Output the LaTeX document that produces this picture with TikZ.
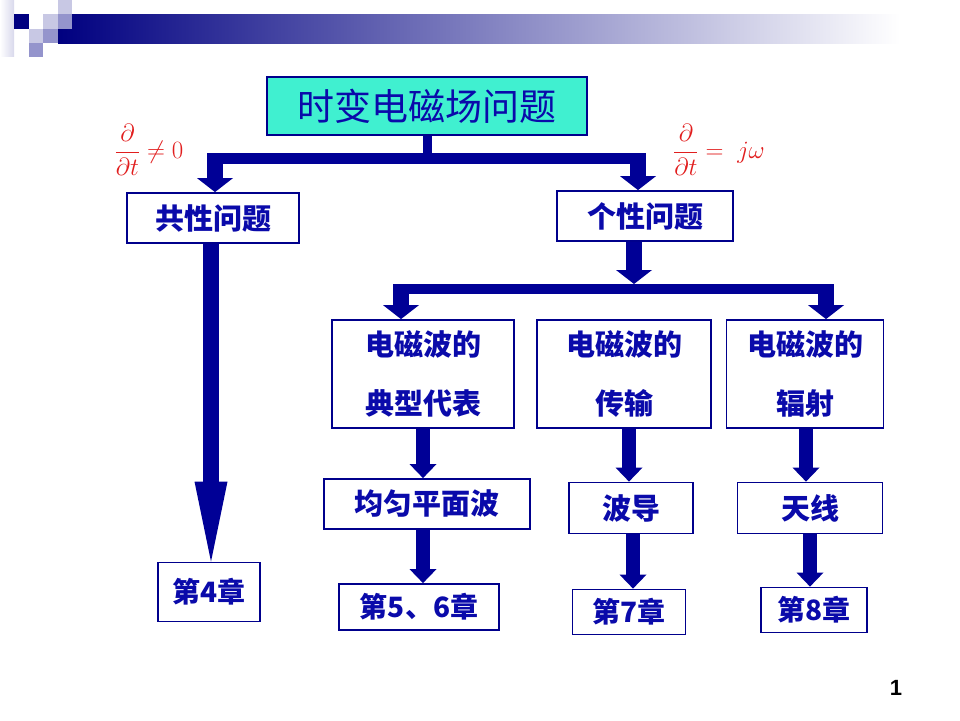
\documentclass[tikz,border=0pt]{standalone}
\usepackage{fontspec}
\newfontfamily\cjk{Noto Sans CJK SC}
\newfontfamily\numfont{Liberation Sans}
\usetikzlibrary{arrows.meta}
\definecolor{navy}{RGB}{0,0,128}
\definecolor{arrblue}{RGB}{0,0,150}
\definecolor{txtblue}{RGB}{10,10,170}
\definecolor{boxblue}{RGB}{0,0,140}
\definecolor{mint}{RGB}{64,240,208}
\definecolor{lav}{RGB}{200,200,228}
\definecolor{medlav}{RGB}{148,148,204}
\definecolor{eqred}{RGB}{225,30,30}
\tikzset{
  box/.style={draw=boxblue, line width=1.8pt, fill=white, inner sep=0pt,
    text=txtblue, align=center, font=\cjk\bfseries\fontsize{29}{59}\selectfont},
  titlebox/.style={draw=boxblue, line width=2pt, fill=mint, inner sep=0pt,
    minimum width=320pt, minimum height=58pt, text=txtblue,
    font=\cjk\fontsize{37}{40}\selectfont},
  bar/.style={draw=arrblue, line width=10pt},
  stem/.style={draw=arrblue, line width=9pt},
  bigdrop/.style={draw=arrblue, line width=16pt, -{Triangle[length=14pt,width=36pt,line width=0pt]}},
  drop/.style={draw=arrblue, line width=14pt, -{Triangle[length=14pt,width=27pt,line width=0pt]}},
  longdrop/.style={draw=arrblue, line width=16pt, -{Triangle[length=80pt,width=33pt,line width=0pt]}},
  eq/.style={text=eqred, font=\fontsize{24}{28}\selectfont},
}
\begin{document}
\begin{tikzpicture}[x=1pt,y=-1pt]
\useasboundingbox (0,0) rectangle (960,720);
% header decoration
\shade[left color=white, right color=lav!70] (0,0) rectangle (14,56);
\shade[left color=navy, right color=white] (58,14) rectangle (900,43);
\fill[lav] (58,0) rectangle (72,14);
\fill[navy] (14,14) rectangle (29,29);
\fill[lav] (43,14) rectangle (58,29);
\fill[medlav] (58,14) rectangle (72,29);
\fill[lav] (29,29) rectangle (43,43);
\fill[medlav] (43,29) rectangle (58,43);
\fill[medlav] (29,43) rectangle (43,57);

% nodes
\node[titlebox] (top) at (427,106) {时变电磁场问题};
\node[box, minimum width=172pt, minimum height=50pt] (gx) at (213,218) {共性问题};
\node[box, minimum width=176pt, minimum height=50pt] (gy) at (645,216) {个性问题};
\node[box, minimum width=182pt, minimum height=108pt] (e1) at (423,374) {电磁波的\\典型代表};
\node[box, minimum width=174pt, minimum height=108pt] (e2) at (624,374) {电磁波的\\传输};
\node[box, minimum width=157pt, minimum height=108pt] (e3) at (805,374) {电磁波的\\辐射};
\node[box, minimum width=206pt, minimum height=50pt] (f1) at (427,504) {均匀平面波};
\node[box, minimum width=124pt, minimum height=51pt] (f2) at (631,508) {波导};
\node[box, minimum width=145pt, minimum height=51pt] (f3) at (810,508) {天线};
\node[box, minimum width=160pt, minimum height=46pt, font=\cjk\bfseries\fontsize{28}{30}\selectfont] (c1) at (419,607) {第5、6章};
\node[box, minimum width=113pt, minimum height=45pt, font=\cjk\bfseries\fontsize{28}{30}\selectfont] (c2) at (629,612) {第7章};
\node[box, minimum width=106pt, minimum height=45pt, font=\cjk\bfseries\fontsize{28}{30}\selectfont] (c3) at (814,610) {第8章};
\node[box, minimum width=102pt, minimum height=59pt, font=\cjk\bfseries\fontsize{28}{30}\selectfont] (c0) at (209,592) {第4章};

\node[eq] (lblL) at (149,150) {$\displaystyle\frac{\partial}{\partial t}\neq 0$};
\node[eq] (lblR) at (719,150) {$\displaystyle\frac{\partial}{\partial t}=\;j\omega$};
\node[font=\numfont\bfseries\fontsize{22}{24}\selectfont] (pg) at (896,688) {1};

% connectors
\coordinate (s1) at (427,158);
\coordinate (b1l) at (207,158);
\coordinate (b1r) at (646,158);
\draw[stem] (top.south) -- (s1);
\draw[bar, line width=11pt] (b1l) -- (b1r);
\coordinate (d1) at (215,153);
\coordinate (d2) at (638,153);
\draw[bigdrop] (d1) -- (d1 |- gx.north);
\draw[bigdrop] (d2) -- (d2 |- gy.north);
\coordinate (g) at (634,0);
\coordinate (t2) at (634,284);
\draw[bigdrop] (g |- gy.south) -- (t2);
\coordinate (b2l) at (393,289);
\coordinate (b2r) at (834,289);
\draw[bar] (b2l) -- (b2r);
\coordinate (d3) at (401,284);
\coordinate (d4) at (826,284);
\draw[bigdrop] (d3) -- (d3 |- e1.north);
\draw[bigdrop] (d4) -- (d4 |- e3.north);
\coordinate (x1) at (423,0);
\coordinate (x2a) at (629,0);
\coordinate (x2b) at (633,0);
\coordinate (x3a) at (806,0);
\coordinate (x3b) at (810,0);
\coordinate (x0) at (211,0);
\draw[drop] (x1 |- e1.south) -- (x1 |- f1.north);
\draw[drop] (x2a |- e2.south) -- (x2a |- f2.north);
\draw[drop] (x3a |- e3.south) -- (x3a |- f3.north);
\draw[drop] (x1 |- f1.south) -- (x1 |- c1.north);
\draw[drop] (x2b |- f2.south) -- (x2b |- c2.north);
\draw[drop] (x3b |- f3.south) -- (x3b |- c3.north);
\draw[longdrop] (x0 |- gx.south) -- (x0 |- c0.north);
\end{tikzpicture}
\end{document}
